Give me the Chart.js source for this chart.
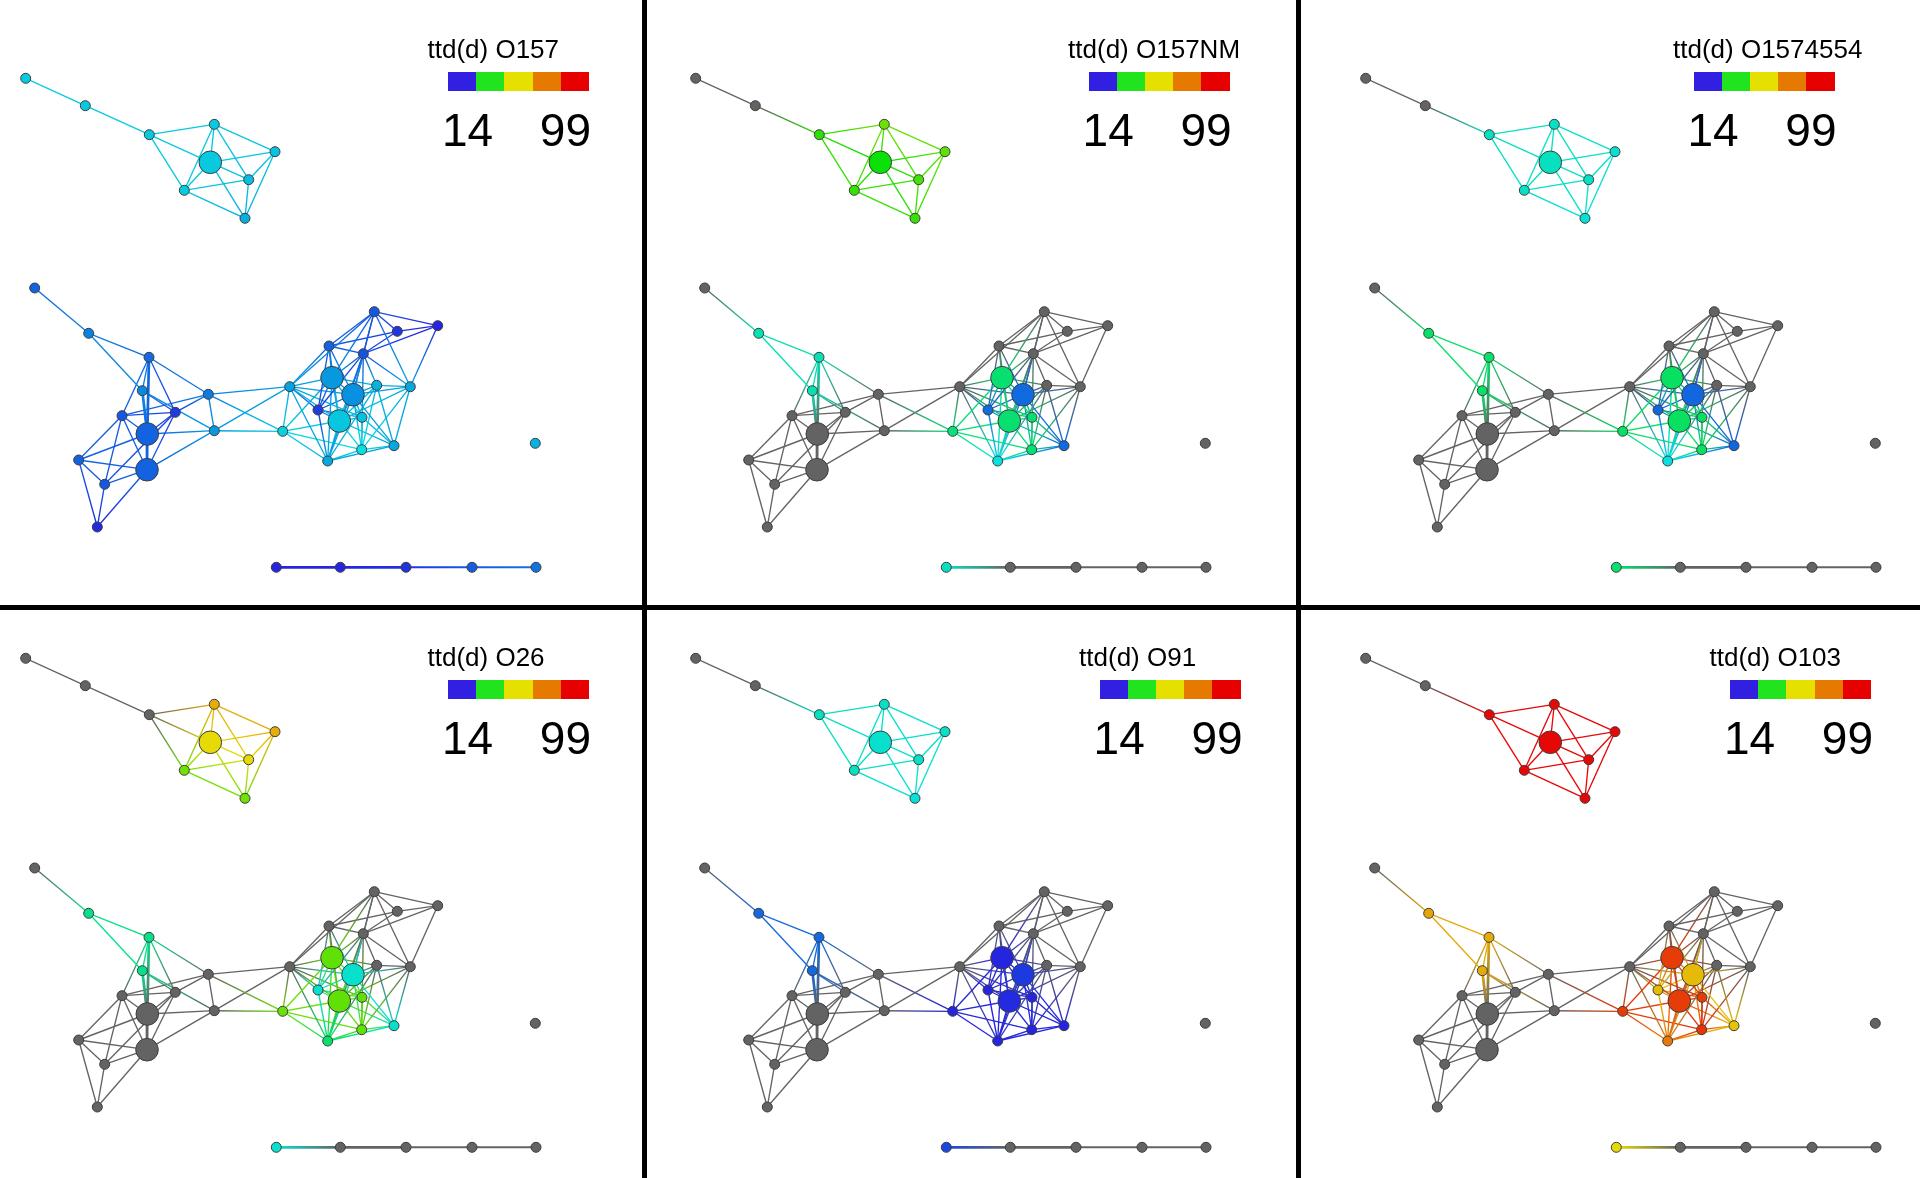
<!DOCTYPE html>
<html>
<head>
<meta charset="utf-8">
<script src="https://cdn.jsdelivr.net/npm/chart.js@4.4.0/dist/chart.umd.min.js"></script>
<style>
html,body{margin:0;padding:0;background:#fff;}
body{width:1920px;height:1178px;overflow:hidden;position:relative;font-family:"Liberation Sans",Arial,sans-serif;}
canvas.panel{position:absolute;}
.sep{position:absolute;background:#000;z-index:5;}
.ttl{position:absolute;font-size:26px;line-height:26px;white-space:nowrap;color:#000;z-index:4;}
.num{position:absolute;font-size:46px;line-height:46px;white-space:nowrap;color:#000;z-index:4;}
.bar{position:absolute;height:19px;width:141px;display:flex;z-index:4;}
.bar span{flex:1;}
</style>
</head>
<body>
<script>
// ---------------- DATA ----------------
// network node ids and layout coordinates (layout units)
const nodeIds = ['A1','A2','A3','A4','A5','A6','A7','A8','A9',
  'B1','B2','B3','B4','B5','B6','B7','B8','B9','B10','B11','B12','B13',
  'C1','C2','C3','C4','C5','C6','C7','C8','C9','C10','C11','C12','C13','C14','C15','C16','C17',
  'D1','E1','E2','E3','E4','E5'];
const layoutX = [25.7,85.3,149.3,214.3,210.3,275,248.7,184.3,245,
  34.7,88.7,149,142.3,208.3,122,175.3,214.3,147.3,78.7,147,104.7,97.3,
  374.3,397.3,437.7,329,363.3,332,289.7,353,376.7,410.3,318,362,339.3,282.7,361.7,394,327.7,
  535.3,276.3,340.3,406,472,536];
const layoutY = [78.3,105.7,134.7,124.3,162.3,151.7,179.7,190.3,218.3,
  288,333.3,357.3,390.7,394.3,415.7,412.3,430.7,434,460,469.7,484.3,527,
  311.7,331.3,325.7,346,353.7,377.7,386.7,394.7,385.3,386.7,410,417.3,421,431.3,449.7,445.7,461,
  443.3,567.3,567.3,567.3,567.3,567.3];
// hub nodes (drawn large)
const hubNodes = ['A5','B9','B11','C6','C8','C13'];
// edges [from, to, weight]
const edges = [
 ['A1','A2',1],['A2','A3',1],['A3','A4',1],['A3','A5',1],['A3','A8',1],['A4','A5',1],['A4','A6',1],['A4','A7',1],['A4','A8',1],
 ['A5','A6',1],['A5','A7',1],['A5','A8',1],['A5','A9',1],['A6','A7',1],['A6','A9',1],['A7','A8',1],['A7','A9',1],['A8','A9',1],
 ['B1','B2',1],['B2','B3',1],['B2','B4',1],['B3','B4',1],['B3','B5',1],['B3','B6',1],['B3','B7',1],['B3','B9',2],['B4','B9',2],
 ['B4','B7',1],['B4','B8',1],['B5','B6',1],['B5','B7',1],['B5','B8',1],['B6','B7',1],['B6','B9',1],['B6','B10',1],['B6','B11',1],
 ['B6','B12',1],['B7','B9',1],['B7','B11',1],['B7','B12',1],['B8','B9',1],['B8','B11',1],['B9','B10',1],['B9','B11',2],['B10','B11',1],
 ['B10','B12',1],['B10','B13',1],['B11','B12',1],['B11','B13',1],['B12','B13',1],
 ['B5','C7',1],['B5','C14',1],['B8','C7',1],['B8','C14',1],
 ['C1','C2',1],['C1','C3',1],['C1','C4',1],['C1','C5',1],['C1','C6',1],['C1','C7',1],['C1','C8',1],['C1','C10',1],['C2','C3',1],
 ['C2','C4',1],['C2','C5',1],['C3','C5',1],['C3','C10',1],['C4','C5',1],['C4','C6',1],['C4','C7',1],['C4','C8',1],['C4','C11',1],
 ['C4','C13',1],['C5','C6',1],['C5','C8',1],['C5','C9',1],['C5','C10',1],['C5','C11',1],['C5','C13',1],['C5','C15',1],['C5','C17',1],
 ['C6','C7',1],['C6','C8',1],['C6','C9',1],['C6','C11',1],['C6','C12',1],['C6','C13',1],['C6','C14',1],['C6','C17',1],['C7','C8',1],
 ['C7','C11',1],['C7','C12',1],['C7','C13',1],['C7','C14',1],['C7','C17',1],['C8','C9',1],['C8','C10',1],['C8','C11',1],['C8','C12',1],
 ['C8','C13',1],['C8','C15',1],['C8','C16',1],['C8','C17',1],['C9','C10',1],['C9','C13',1],['C9','C15',1],['C9','C16',1],['C9','C17',1],
 ['C10','C13',1],['C10','C15',1],['C10','C16',1],['C11','C12',1],['C11','C13',1],['C11','C17',1],['C12','C13',1],['C12','C15',1],
 ['C12','C16',1],['C13','C14',1],['C13','C15',1],['C13','C16',1],['C13','C17',1],['C14','C15',1],['C14','C17',1],['C15','C16',1],
 ['C15','C17',1],['C16','C17',1],
 ['E1','E2',2],['E2','E3',2],['E3','E4',1.5],['E4','E5',1.5]
];
// panel titles and legend scale
const panelTitles = ['ttd(d) O157','ttd(d) O157NM','ttd(d) O1574554','ttd(d) O26','ttd(d) O91','ttd(d) O103'];
const legendTicks = ['14','99'];
const legendMin = 14, legendMax = 99;
// ttd values per node (null = no data), node order as nodeIds
const ttdO157 = [30.4,30.4,30.4,30.4,30.4,30.2,30.0,30.4,29.4,
  26.3,27.7,26.6,28.0,27.4,25.9,24.5,28.6,26.3,26.3,26.3,25.8,23.5,
  25.8,24.2,23.2,26.3,25.6,28.6,29.0,28.3,29.6,29.2,24.5,30.1,30.3,30.7,31.3,29.2,29.2,
  29.6,23.2,23.2,24.0,26.0,27.1];
const ttdO157NM = [null,null,42,47,39.5,46,44,43,43,
  null,33,33,33,null,null,null,null,null,null,null,null,null,
  null,null,null,null,null,35.4,null,26.7,null,null,26.7,35.4,35.4,35.0,35.2,26.7,31.3,
  null,32.5,null,null,null,null];
const ttdO1574554 = [null,null,32.5,32.2,32.5,32,32.2,32.2,31.8,
  null,35.7,35.7,35.7,null,null,null,null,null,null,null,null,null,
  null,null,null,null,null,36,null,26.5,null,null,26.5,36,36,36,36,26.5,31.3,
  null,35.5,null,null,null,null];
const ttdO26 = [null,null,null,65.3,57.5,65.3,57.7,47.4,47.4,
  null,34.5,34.5,34.5,null,null,null,null,null,null,null,null,null,
  null,null,null,null,null,46,null,32,null,null,32,46,46,47,46,32,35.7,
  null,32,null,null,null,null];
const ttdO91 = [null,null,32.5,32.2,32,32.2,32.2,32.5,31.5,
  null,26.6,26.6,26.6,null,null,null,null,null,null,null,null,null,
  null,null,null,null,null,23.2,null,24.3,null,null,23.2,23.2,23.5,23.2,23.2,23.2,23.2,
  null,25.1,null,null,null,null];
const ttdO103 = [null,null,92,92,92,92,92,92,92,
  null,66.6,65.5,65.5,null,null,null,null,null,null,null,null,null,
  null,null,null,null,null,82.8,null,62.8,null,null,62.8,82.8,82.8,82.8,84.1,61.5,74,
  null,57.7,null,null,null,null];
const panelValues = [ttdO157, ttdO157NM, ttdO1574554, ttdO26, ttdO91, ttdO103];

// ---------------- STYLE / LAYOUT ----------------
const legendColors = ['#3120e2','#22e41e','#e6e000','#e67a00','#e60000'];
const GREY = '#636363';
const PW = 650, PH = 600;
const panelLeft = [0, 670, 1340, 0, 670, 1340];
const panelTop = [0, 0, 0, 580, 580, 580];
const barLeft = [448, 1088.6, 1693.5, 448, 1099.6, 1730];
const barTop = [72.3, 72.3, 72.3, 680, 680, 680];

function hexToRgb(h){h=h.replace('#','');return [parseInt(h.substr(0,2),16),parseInt(h.substr(2,2),16),parseInt(h.substr(4,2),16)];}
function hueOf(hex){
  const [r,g,b]=hexToRgb(hex);const mx=Math.max(r,g,b),mn=Math.min(r,g,b),d=mx-mn;
  if(d===0)return 0;let h;
  if(mx===r)h=60*((g-b)/d);else if(mx===g)h=60*((b-r)/d)+120;else h=60*((r-g)/d)+240;
  if(h<0)h+=360;return h;
}
function hsvHex(h,s,v){
  const c=v*s,x=c*(1-Math.abs((h/60)%2-1)),m=v-c;let r,g,b;
  if(h<60){r=c;g=x;b=0;}else if(h<120){r=x;g=c;b=0;}else if(h<180){r=0;g=c;b=x;}
  else if(h<240){r=0;g=x;b=c;}else if(h<300){r=x;g=0;b=c;}else{r=c;g=0;b=x;}
  const f=t=>Math.round((t+m)*255).toString(16).padStart(2,'0');
  return '#'+f(r)+f(g)+f(b);
}
const legendHues = legendColors.map(hueOf);
function colorFor(v){
  if(v===null||v===undefined)return GREY;
  const n=legendColors.length,w=(legendMax-legendMin)/n;
  let t=(v-legendMin)/w-0.5;t=Math.max(0,Math.min(n-1,t));
  const k=Math.min(Math.floor(t),n-2),f=t-k;
  const h=legendHues[k]+(legendHues[k+1]-legendHues[k])*f;
  const s=h>200?0.97-(Math.min(h,245)-200)/45*0.15:0.97;
  return hsvHex(h,s,h<70?0.9:0.88);
}

const idx = {};
nodeIds.forEach((id,i)=>idx[id]=i);

function makePanel(p){
  const cv=document.createElement('canvas');
  cv.className='panel';cv.width=PW;cv.height=PH;
  cv.style.left=panelLeft[p]+'px';cv.style.top=panelTop[p]+'px';
  cv.style.width=PW+'px';cv.style.height=PH+'px';
  document.body.appendChild(cv);
  const colors=panelValues[p].map(colorFor);
  const datasets=[];
  datasets.push({
    data:nodeIds.map((id,i)=>({x:layoutX[i],y:layoutY[i]})),
    pointRadius:nodeIds.map(id=>hubNodes.includes(id)?11.3:5),
    pointBackgroundColor:colors,
    pointBorderColor:'#3d3d3d',pointBorderWidth:1,
    showLine:false,order:0,clip:false
  });
  edges.forEach(([a,b,w])=>{
    const i=idx[a],j=idx[b];
    datasets.push({
      data:[{x:layoutX[i],y:layoutY[i]},{x:layoutX[j],y:layoutY[j]}],
      showLine:true,pointRadius:0,borderWidth:1.35*w,order:1,clip:false,
      borderColor:(ctx)=>{
        const ch=ctx.chart,xs=ch.scales.x,ys=ch.scales.y;
        if(!ch.chartArea||!xs||!ys)return colors[i];
        const g=ch.ctx.createLinearGradient(xs.getPixelForValue(layoutX[i]),ys.getPixelForValue(layoutY[i]),xs.getPixelForValue(layoutX[j]),ys.getPixelForValue(layoutY[j]));
        g.addColorStop(0,colors[i]);g.addColorStop(1,colors[j]);return g;
      }
    });
  });
  new Chart(cv,{
    type:'scatter',
    data:{datasets},
    options:{
      responsive:false,animation:false,events:[],
      layout:{padding:0,autoPadding:false},
      plugins:{legend:{display:false},tooltip:{enabled:false},title:{display:false}},
      scales:{
        x:{type:'linear',min:0,max:PW,display:false},
        y:{type:'linear',min:0,max:PH,reverse:true,display:false}
      }
    }
  });
  // legend (HTML text)
  const bl=barLeft[p],bt=barTop[p];
  const t=document.createElement('div');t.className='ttl';t.textContent=panelTitles[p];
  t.style.left=(bl-20.5)+'px';t.style.top=(bt-14-22)+'px';document.body.appendChild(t);
  const bar=document.createElement('div');bar.className='bar';bar.style.left=bl+'px';bar.style.top=bt+'px';
  legendColors.forEach(c=>{const s=document.createElement('span');s.style.background=c;bar.appendChild(s);});
  document.body.appendChild(bar);
  const n1=document.createElement('div');n1.className='num';n1.textContent=legendTicks[0];
  n1.style.left=(bl-6)+'px';n1.style.top=(bt+73.5-39)+'px';document.body.appendChild(n1);
  const n2=document.createElement('div');n2.className='num';n2.textContent=legendTicks[1];
  n2.style.left=(bl+141+2)+'px';n2.style.transform='translateX(-100%)';n2.style.top=(bt+73.5-39)+'px';document.body.appendChild(n2);
}
for(let p=0;p<6;p++)makePanel(p);

// separators
[[642,0,5,1178],[1296,0,5,1178],[0,605,1920,5]].forEach(([x,y,w,h])=>{
  const d=document.createElement('div');d.className='sep';
  d.style.left=x+'px';d.style.top=y+'px';d.style.width=w+'px';d.style.height=h+'px';
  document.body.appendChild(d);
});
</script>
</body>
</html>
